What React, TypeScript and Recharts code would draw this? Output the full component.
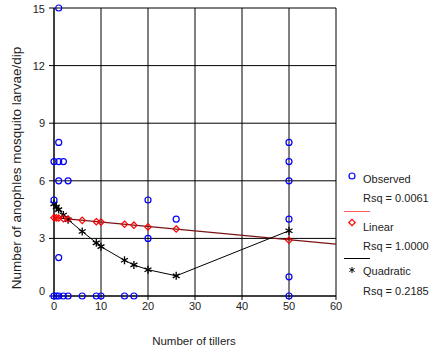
import React from "react";
import { ComposedChart, XAxis, YAxis, CartesianGrid, Line, Scatter } from "recharts";

const obsX = [0, 0, 0, 0.5, 1, 1, 1, 1, 1, 1, 2, 2, 3, 3, 6, 9, 10, 15, 17, 20, 20, 26, 50, 50, 50, 50, 50, 50];
const obsY = [0, 5, 7, 0, 0, 2, 6, 7, 8, 15, 0, 7, 0, 6, 0, 0, 0, 0, 0, 3, 5, 4, 0, 1, 4, 6, 7, 8];

const fitX = [0, 0.5, 1, 2, 3, 6, 9, 10, 15, 17, 20, 26, 50];
const linearY = [4.08, 4.07, 4.06, 4.03, 4.01, 3.94, 3.87, 3.85, 3.74, 3.69, 3.6, 3.49, 2.9];
const quadY = [4.8, 4.65, 4.5, 4.22, 3.97, 3.36, 2.77, 2.57, 1.86, 1.62, 1.37, 1.05, 3.4];

const linearLineX = [0, 60];
const linearLineY = [4.08, 2.7];

const xTicks = [0, 10, 20, 30, 40, 50, 60];
const yTicks = [0, 3, 6, 9, 12, 15];

const legendLabels = ["Observed", "Linear", "Quadratic"];
const rsqLabels = ["Rsq = 0.0061", "Rsq = 1.0000", "Rsq = 0.2185"];

const xLabel = "Number of tillers";
const yLabel = "Number of anophles mosquito larvae/dip";

const observed = obsX.map((x, i) => ({ x, y: obsY[i] }));
const linearPts = fitX.map((x, i) => ({ x, y: linearY[i] }));
const quadPts = fitX.map((x, i) => ({ x, y: quadY[i] }));
const linearLine = linearLineX.map((x, i) => ({ x, y: linearLineY[i] }));

const FONT = "'Liberation Sans', Arial, sans-serif";

const Star = ({ cx, cy, r = 4, sw = 1.3 }: any) => {
  if (cx == null || cy == null) return <g />;
  const dx = r * Math.cos(Math.PI / 6);
  const dy = r * Math.sin(Math.PI / 6);
  return (
    <g stroke="#000" strokeWidth={sw}>
      <line x1={cx} y1={cy - r} x2={cx} y2={cy + r} />
      <line x1={cx - dx} y1={cy - dy} x2={cx + dx} y2={cy + dy} />
      <line x1={cx - dx} y1={cy + dy} x2={cx + dx} y2={cy - dy} />
    </g>
  );
};

const Circle = (props: any) => (
  <circle cx={props.cx} cy={props.cy} r={3} fill="none" stroke="#0000ff" strokeWidth={1.2} />
);

const Diamond = (props: any) => {
  const { cx, cy } = props;
  const s = 3.2;
  return (
    <path
      d={`M${cx},${cy - s}L${cx + s},${cy}L${cx},${cy + s}L${cx - s},${cy}Z`}
      fill="none"
      stroke="#ff0000"
      strokeWidth={1.2}
    />
  );
};

const YTick = (props: any) => {
  const { x, y, payload } = props;
  const off = payload.value === 0 ? -5 : 0;
  return (
    <text x={x} y={y + off} dy="0.355em" textAnchor="end" fontSize={11} fontFamily={FONT} fill="#222">
      {payload.value}
    </text>
  );
};

const XTick = (props: any) => {
  const { x, y, payload } = props;
  return (
    <text x={x} y={y} dy="0.71em" textAnchor="middle" fontSize={11} fontFamily={FONT} fill="#222">
      {payload.value}
    </text>
  );
};

export default function App() {
  return (
    <div style={{ position: "absolute", left: 0, top: 0, width: 433, height: 352, background: "#fff" }}>
      <ComposedChart width={433} height={352} margin={{ top: 8, right: 97, bottom: 0, left: 0 }}>
        <CartesianGrid stroke="#000" strokeWidth={1} horizontal vertical />
        <XAxis
          type="number"
          dataKey="x"
          domain={[0, 60]}
          ticks={xTicks}
          height={56}
          tickSize={4}
          tickMargin={2}
          stroke="#000"
          tick={<XTick />}
        />
        <YAxis
          type="number"
          dataKey="y"
          domain={[0, 15]}
          ticks={yTicks}
          width={54}
          tickSize={5}
          tickMargin={4}
          stroke="#000"
          tick={<YTick />}
        />
        <Line
          data={linearLine}
          dataKey="y"
          type="linear"
          stroke="#7a1414"
          strokeWidth={1.4}
          dot={false}
          activeDot={false}
          isAnimationActive={false}
        />
        <Line
          data={quadPts}
          dataKey="y"
          type="linear"
          stroke="#000"
          strokeWidth={1}
          dot={(p: any) => <Star key={p.index} cx={p.cx} cy={p.cy} />}
          activeDot={false}
          isAnimationActive={false}
        />
        <Scatter data={linearPts} dataKey="y" shape={<Diamond />} isAnimationActive={false} />
        <Scatter data={observed} dataKey="y" shape={<Circle />} isAnimationActive={false} />
      </ComposedChart>
      <svg
        width={433}
        height={352}
        style={{ position: "absolute", left: 0, top: 0, pointerEvents: "none" }}
        fontFamily={FONT}
        fontSize={11}
      >
        <text
          x={16}
          y={168}
          transform="rotate(-90 16 168)"
          dy="0.35em"
          textAnchor="middle"
          fill="#222"
          fontSize={13.5}
        >
          {yLabel}
        </text>
        <text x={194} y={345} textAnchor="middle" fill="#222" fontSize={11.5}>
          {xLabel}
        </text>
        <circle cx={352} cy={176} r={3} fill="none" stroke="#0000ff" strokeWidth={1.2} />
        <text x={363} y={183} fill="#222">{legendLabels[0]}</text>
        <text x={363} y={202} fill="#222">{rsqLabels[0]}</text>
        <line x1={344} y1={211.5} x2={370} y2={211.5} stroke="#ff5a5a" strokeWidth={1} />
        <Diamond cx={352} cy={222.5} />
        <text x={363} y={230.5} fill="#222">{legendLabels[1]}</text>
        <text x={363} y={249.5} fill="#222">{rsqLabels[1]}</text>
        <line x1={344} y1={258.5} x2={370} y2={258.5} stroke="#000" strokeWidth={1} />
        <Star cx={352} cy={270} r={3} sw={1} />
        <text x={363} y={274.5} fill="#222">{legendLabels[2]}</text>
        <text x={363} y={294.5} fill="#222">{rsqLabels[2]}</text>
      </svg>
    </div>
  );
}
